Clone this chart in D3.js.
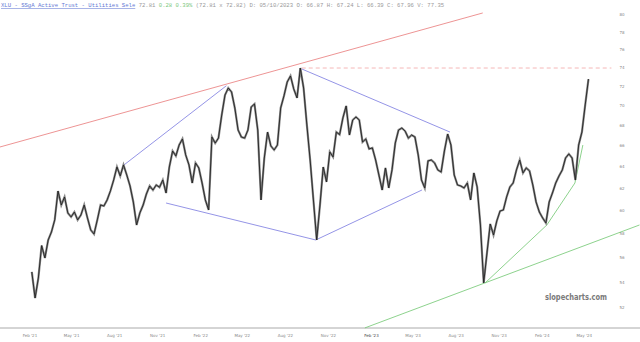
<!DOCTYPE html>
<html>
<head>
<meta charset="utf-8">
<style>
  body { margin: 0; background: #fff; }
  svg { display: block; }
  .tick-label { font-family: 'DejaVu Sans', sans-serif; font-size: 4px; fill: #888; }
  .header { font-family: 'Liberation Mono', monospace; font-size: 5.6px; fill: #999; }
</style>
</head>
<body>
<div id="chart"></div>
<script src="https://cdn.jsdelivr.net/npm/d3@7"></script>
<script>
const width = 640, height = 342;

// weekly closes (Fridays), first bar 2021-02-05, last 2024-05-10
const firstFriday = '2021-02-05';
const closes = [
  54.83, 52.77, 54.34, 57.00, 55.97, 57.47, 58.15, 59.19, 61.76, 60.50,
  61.22, 59.80, 59.45, 59.88, 59.19, 59.62, 60.50, 59.36, 58.32, 57.98,
  59.19, 60.50, 60.41, 60.95, 61.76, 62.77, 63.98, 63.14, 64.17, 63.23,
  62.22, 60.77, 58.75, 59.80, 60.50, 61.49, 62.22, 61.85, 62.31, 62.10,
  62.77, 61.58, 63.98, 65.50, 65.03, 66.08, 66.67, 65.12, 64.17, 62.49,
  64.36, 63.89, 62.49, 60.95, 60.06, 66.86, 66.27, 66.76, 69.06, 71.12,
  71.86, 71.44, 69.78, 67.55, 66.86, 66.76, 67.55, 69.88, 70.19, 67.55,
  60.95, 64.83, 67.35, 65.99, 65.60, 66.08, 69.78, 71.02, 72.50, 73.14,
  71.75, 70.81, 74.00, 71.86, 68.06, 64.64, 60.95, 57.47, 60.50, 63.98,
  62.59, 65.41, 64.93, 67.35, 67.10, 68.76, 69.99, 67.06, 68.56, 68.86,
  68.56, 66.37, 66.67, 65.70, 65.80, 64.64, 63.23, 61.85, 63.89, 62.04,
  63.70, 66.27, 67.55, 67.75, 67.45, 66.76, 67.06, 66.86, 65.12, 62.77,
  62.04, 64.55, 64.64, 64.36, 63.70, 63.51, 65.50, 67.16, 66.08, 63.23,
  62.31, 62.22, 62.04, 62.49, 60.95, 63.42, 62.13, 58.75, 53.95, 56.38,
  58.84, 57.89, 59.10, 59.97, 60.06, 61.22, 62.13, 62.49, 63.70, 64.64,
  63.42, 63.89, 63.61, 62.31, 60.77, 59.88, 59.36, 58.93, 60.77, 61.58,
  62.49, 63.14, 63.70, 64.83, 65.22, 64.83, 62.77, 66.08, 67.35, 70.09,
  72.81
];

const xTickDates = ['2021-02-01', '2021-05-01', '2021-08-01', '2021-11-01',
  '2022-02-01', '2022-05-01', '2022-08-01', '2022-11-01',
  '2023-02-01', '2023-05-01', '2023-08-01', '2023-11-01',
  '2024-02-01', '2024-05-01'];
const xTickLabels = ["Feb '21", "May '21", "Aug '21", "Nov '21",
  "Feb '22", "May '22", "Aug '22", "Nov '22",
  "Feb '23", "May '23", "Aug '23", "Nov '23",
  "Feb '24", "May '24"];
const yTicks = [52, 54, 56, 58, 60, 62, 64, 66, 68, 70, 72, 74, 76, 78, 80];

// drawn trend lines as [date, price]
const redLine = [['2020-11-29', 65.89], ['2023-09-27', 80.24]];
const peakLevel = [['2022-09-05', 74.0], ['2024-06-28', 74.0]];
const blueLines = [
  [['2021-08-21', 64.17], ['2022-03-28', 72.1]],
  [['2021-11-19', 60.68], ['2022-10-05', 57.47]],
  [['2022-09-05', 73.9], ['2023-07-19', 67.35]],
  [['2022-10-05', 57.47], ['2023-05-20', 61.85]]
];
const greenLines = [
  [['2023-01-18', 50.5], ['2024-08-27', 58.75]],
  [['2023-10-02', 53.95], ['2024-02-11', 58.75], ['2024-04-11', 62.49], ['2024-04-28', 66.08]]
];

const headerName = 'XLU - SSgA Active Trust - Utilities Sele';
const headerLast = ' 72.81 ';
const headerChange = '0.28 0.39%';
const headerRest = ' (72.81 x 72.82) D: 05/10/2023 O: 66.87 H: 67.24 L: 66.39 C: 67.96 V: 77.35';

const parse = d3.timeParse('%Y-%m-%d');
const start = parse(firstFriday);
const series = closes.map((c, i) => ({ date: d3.timeDay.offset(start, i * 7), close: c }));

const x = d3.scaleTime()
    .domain([parse('2020-11-29'), parse('2024-06-25')])
    .range([0, 610]);

const y = d3.scaleLog()
    .domain([52, 80])
    .range([308, 15]);

const svg = d3.select('#chart').append('svg')
    .attr('width', width)
    .attr('height', height);

const line = d3.line()
    .x(d => x(parse(d[0])))
    .y(d => y(d[1]));

// header
const head = svg.append('text').attr('class', 'header').attr('x', 1).attr('y', 7);
head.append('tspan').text(headerName)
    .style('fill', '#6478d4').style('text-decoration', 'underline');
head.append('tspan').text(headerLast);
head.append('tspan').text(headerChange).style('fill', '#7cc77c');
head.append('tspan').text(headerRest);

// bottom axis line + labels
svg.append('line')
    .attr('x1', 0).attr('x2', width)
    .attr('y1', 328).attr('y2', 328)
    .attr('stroke', '#aaa').attr('stroke-width', 1);

svg.selectAll('text.xlab')
    .data(xTickDates)
  .enter().append('text')
    .attr('class', 'tick-label xlab')
    .attr('x', d => x(parse(d)))
    .attr('y', 337)
    .attr('text-anchor', 'middle')
    .style('fill', (d, i) => xTickLabels[i] === "Feb '23" ? '#444' : null)
    .text((d, i) => xTickLabels[i]);

svg.selectAll('text.ylab')
    .data(yTicks)
  .enter().append('text')
    .attr('class', 'tick-label ylab')
    .attr('x', 622)
    .attr('y', d => y(d) + 1.4)
    .attr('text-anchor', 'middle')
    .text(d => d);

// trend lines
svg.append('path')
    .attr('d', line(redLine))
    .attr('fill', 'none').attr('stroke', '#e87878').attr('stroke-width', 0.8);

svg.append('path')
    .attr('d', line(peakLevel))
    .attr('fill', 'none').attr('stroke', '#f2a5a5').attr('stroke-width', 0.8)
    .attr('stroke-dasharray', '4,3');

blueLines.forEach(l => svg.append('path')
    .attr('d', line(l))
    .attr('fill', 'none').attr('stroke', '#7878e0').attr('stroke-width', 0.8));

greenLines.forEach(l => svg.append('path')
    .attr('d', line(l))
    .attr('fill', 'none').attr('stroke', '#70c670').attr('stroke-width', 0.8));

// price
const priceLine = d3.line()
    .x(d => x(d.date))
    .y(d => y(d.close));

svg.append('path')
    .datum(series)
    .attr('d', priceLine)
    .attr('fill', 'none')
    .attr('stroke', '#8a8a8a')
    .attr('stroke-width', 2.2);

svg.append('path')
    .datum(series)
    .attr('d', priceLine)
    .attr('fill', 'none')
    .attr('stroke', '#222')
    .attr('stroke-width', 0.9);

// watermark
svg.append('text')
    .attr('x', 545).attr('y', 300)
    .attr('textLength', 62)
    .attr('lengthAdjust', 'spacingAndGlyphs')
    .style('font-family', "'DejaVu Sans', sans-serif")
    .style('font-weight', 'bold')
    .style('font-size', '8px')
    .style('fill', '#7a7a7a')
    .text('slopecharts.com');
</script>
</body>
</html>
